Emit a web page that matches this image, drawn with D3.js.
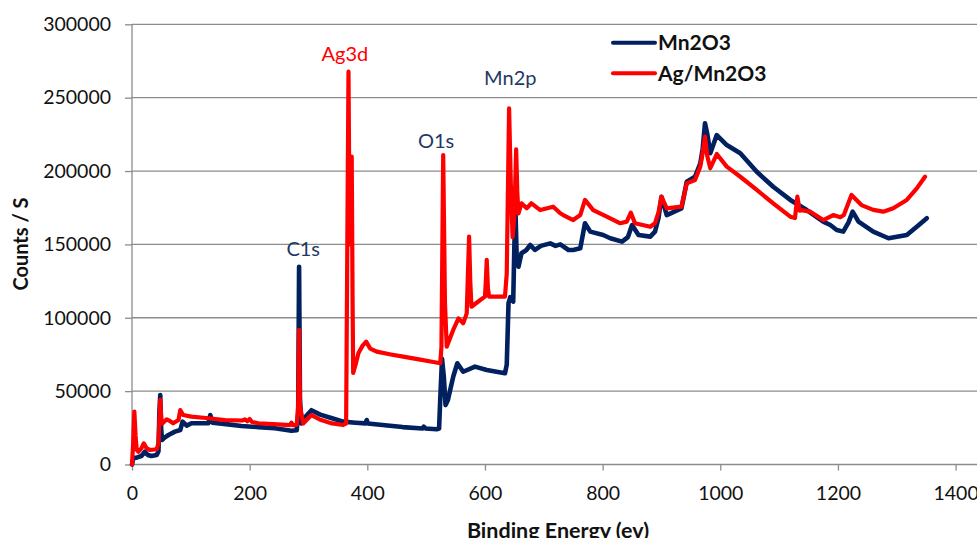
<!DOCTYPE html>
<html lang="en">
<head>
    <meta charset="UTF-8">
    <title>XPS survey - Mn2O3 vs Ag/Mn2O3</title>
    <script src="https://d3js.org/d3.v7.min.js"></script>
    <style>
        body {
            margin: 0;
            overflow: hidden;
            background: #fff;
            font-family: Lato, 'Open Sans', sans-serif;
        }

        svg {
            display: block;
        }

        .grid line {
            stroke: #8c8c8c;
            stroke-width: 1.3;
        }

        .axis path,
        .axis line {
            stroke: #8c8c8c;
            stroke-width: 1.3;
        }

        .axis text {
            font-family: Lato, sans-serif;
            font-size: 19.5px;
            fill: #111;
        }

        .axis-title {
            font-weight: bold;
            fill: #111;
        }

        .legend text {
            font-weight: bold;
            font-size: 21px;
            fill: #111;
        }

        .peak-label {
            font-size: 20px;
        }
    </style>
</head>
<body>
    <svg></svg>

    <script>
        const width = 977;
        const height = 538;

        // Axis ticks
        const xTicks = [0, 200, 400, 600, 800, 1000, 1200, 1400];
        const yTicks = [0, 50000, 100000, 150000, 200000, 250000, 300000];

        // Series: [binding energy (eV), counts / s]
        const mn2o3 = [
            [0, 0], [2, 4000], [5, 4500], [10, 5000], [16, 5800], [22, 8700], [27, 6500],
            [33, 5800], [42, 6500], [45, 9000], [46.5, 35000], [48, 47400], [49.5, 25000],
            [51, 16700], [56, 18500], [62, 20100], [73, 22400], [82, 23500], [86, 29200],
            [93, 26500], [101, 28100], [130, 28100], [133, 33700], [137, 28500], [160, 27500],
            [186, 26200], [215, 25500], [243, 24700], [271, 23000], [280, 23300],
            [282.5, 35000], [284, 134800], [285.5, 45000], [288, 28000], [296, 33000],
            [305, 37000], [320, 34000], [340, 31500], [359, 29200], [380, 28500], [397, 28000],
            [399, 30300], [401, 28000], [430, 26800], [460, 25500], [494, 24500], [496, 25800],
            [499, 24500], [518, 24000], [522, 24500], [524, 45000], [527, 72000], [530, 60000],
            [533, 40500], [537, 44000], [546, 59800], [553, 69000], [563, 63200], [583, 66700],
            [603, 64400], [634, 62200], [637, 68000], [640, 110000], [643, 114000],
            [646, 112000], [648, 111000], [650, 150000], [652, 171000], [654, 140000],
            [657, 134800], [662, 144000], [670, 146000], [677, 149600], [685, 146200],
            [695, 149000], [711, 150700], [720, 149000], [728, 150000], [742, 146200],
            [750, 146200], [762, 147300], [770, 164400], [779, 158700], [801, 156400],
            [813, 154200], [833, 151900], [843, 155000], [850, 163200], [861, 156400],
            [881, 155300], [889, 158700], [895, 168000], [900, 182500], [909, 170000],
            [934, 174600], [943, 192700], [957, 196100], [966, 205300], [970, 215000],
            [974, 232500], [978, 225000], [983, 212100], [994, 224500], [1011, 217700],
            [1034, 212100], [1062, 199500], [1090, 189300], [1119, 180300], [1147, 173400],
            [1175, 165500], [1187, 163200], [1198, 159800], [1209, 158700], [1218, 165000],
            [1225, 172300], [1235, 165500], [1260, 158700], [1286, 154200], [1317, 156400],
            [1334, 162000], [1351, 167800]
        ];

        const agMn2o3 = [
            [0, 0], [2, 15000], [4, 36000], [6, 20000], [8, 10000], [11, 8700], [16, 11000],
            [20, 14400], [25, 11000], [31, 9900], [42, 10400], [45, 14600], [46.5, 30000],
            [48, 44000], [50, 30000], [52, 28100], [59, 30800], [65, 29500], [70, 28100],
            [79, 30300], [82, 37100], [87, 33700], [101, 32600], [130, 31500], [158, 30300],
            [188, 30000], [192, 30800], [196, 29500], [200, 31000], [204, 29000], [215, 28100],
            [240, 27500], [269, 26900], [271, 28500], [274, 26800], [280, 27000],
            [282.5, 40000], [284, 91700], [285.5, 40000], [291, 28000], [305, 33700],
            [320, 30500], [340, 28000], [359, 26900], [364, 28000], [366, 150000],
            [368, 267700], [370, 150000], [372, 175000], [373.5, 209800], [375, 110000],
            [376, 62400], [380, 68000], [385, 76000], [392, 81000], [398, 83700], [405, 79000],
            [416, 76900], [440, 75000], [461, 73500], [490, 71500], [510, 70000], [524, 69000],
            [526, 80000], [529, 210900], [532, 110000], [535, 80300], [546, 91700],
            [555, 99600], [563, 96200], [569, 103000], [571, 130000], [573, 155300],
            [575, 125000], [577, 107500], [592, 112100], [600, 114400], [601.5, 125000],
            [603, 139400], [605, 120000], [607, 114400], [634, 114400], [637, 130000],
            [641, 242700], [644, 190000], [647, 155000], [650, 170000], [653, 214800],
            [655, 185000], [657, 171200], [662, 178000], [671, 174600], [679, 178000],
            [694, 173400], [716, 175700], [728, 171200], [733, 170000], [750, 166600],
            [762, 170000], [770, 180300], [784, 173400], [807, 168900], [830, 164400],
            [841, 165500], [848, 171600], [855, 164400], [881, 162000], [889, 164400],
            [895, 172000], [900, 182500], [909, 174600], [934, 175700], [943, 191600],
            [957, 193900], [966, 203000], [970, 212000], [974, 223400], [978, 210000],
            [983, 201900], [994, 211600], [1011, 203000], [1034, 196100], [1062, 187100],
            [1090, 178000], [1119, 168900], [1127, 168000], [1131, 182500], [1135, 173000],
            [1138, 173400], [1153, 172300], [1175, 166600], [1192, 170000], [1204, 168500],
            [1210, 170000], [1223, 183700], [1240, 176800], [1260, 173500], [1277, 172300],
            [1294, 174600], [1317, 180300], [1334, 188200], [1348, 196100]
        ];

        // Peak annotations: [label, energy, counts, colour]
        const peakLabels = [
            ["C1s", 291, 142000, "#1f3864"],
            ["Ag3d", 362, 275000, "#ff0000"],
            ["O1s", 517, 215500, "#1f3864"],
            ["Mn2p", 643, 258500, "#1f3864"]
        ];

        const seriesNames = ["Mn2O3", "Ag/Mn2O3"];
        const seriesColors = ["#002060", "#ff0000"];
        const seriesWidths = [4.6, 4.2];

        const svg = d3.select("svg")
            .attr("width", width)
            .attr("height", height);

        // Plot area runs off the right edge, like the cropped original
        const x = d3.scaleLinear().domain([0, 1400]).range([132, 955.6]);
        const y = d3.scaleLinear().domain([0, 300000]).range([464.5, 24.3]);
        const plotRight = width;

        // Horizontal gridlines
        svg.append("g")
            .attr("class", "grid")
            .selectAll("line")
            .data(yTicks.filter(d => d > 0))
            .enter().append("line")
            .attr("x1", x(0))
            .attr("x2", plotRight)
            .attr("y1", d => y(d))
            .attr("y2", d => y(d));

        // Y axis
        const yAxis = svg.append("g")
            .attr("class", "axis")
            .attr("transform", `translate(${x(0)},0)`)
            .call(d3.axisLeft(y).tickValues(yTicks).tickSize(7).tickPadding(14)
                .tickFormat(d3.format("d")));
        yAxis.select(".domain").attr("d", `M0,${y(300000)}V${y(0)}`);

        // X axis
        const xAxis = svg.append("g")
            .attr("class", "axis")
            .attr("transform", `translate(0,${y(0)})`)
            .call(d3.axisBottom(x).tickValues(xTicks).tickSize(6).tickPadding(16)
                .tickFormat(d3.format("d")));
        xAxis.select(".domain").attr("d", `M${x(0)},0H${plotRight}`);

        // Axis titles
        svg.append("text")
            .attr("class", "axis-title")
            .attr("x", 558)
            .attr("y", 537.5)
            .attr("text-anchor", "middle")
            .style("font-size", "21.5px")
            .text("Binding Energy (ev)");

        svg.append("text")
            .attr("class", "axis-title")
            .attr("transform", "translate(28,244) rotate(-90)")
            .attr("text-anchor", "middle")
            .style("font-size", "20px")
            .text("Counts / S");

        // Spectra
        const line = d3.line()
            .x(d => x(d[0]))
            .y(d => y(d[1]));

        [mn2o3, agMn2o3].forEach((data, i) => {
            svg.append("path")
                .datum(data)
                .attr("fill", "none")
                .attr("stroke", seriesColors[i])
                .attr("stroke-width", seriesWidths[i])
                .attr("stroke-linejoin", "round")
                .attr("stroke-linecap", "round")
                .attr("d", line);
        });

        // Peak labels
        svg.append("g")
            .selectAll("text")
            .data(peakLabels)
            .enter().append("text")
            .attr("class", "peak-label")
            .attr("x", d => x(d[1]))
            .attr("y", d => y(d[2]))
            .attr("text-anchor", "middle")
            .attr("fill", d => d[3])
            .text(d => d[0]);

        // Legend
        const legend = svg.append("g")
            .attr("class", "legend")
            .selectAll("g")
            .data(seriesNames)
            .enter().append("g")
            .attr("transform", (d, i) => `translate(613,${42.7 + i * 30.6})`);

        legend.append("line")
            .attr("x1", 0)
            .attr("x2", 42)
            .attr("stroke", (d, i) => seriesColors[i])
            .attr("stroke-width", 4)
            .attr("stroke-linecap", "round");

        legend.append("text")
            .attr("x", 45)
            .attr("y", 7.5)
            .text(d => d);
    </script>
</body>
</html>
